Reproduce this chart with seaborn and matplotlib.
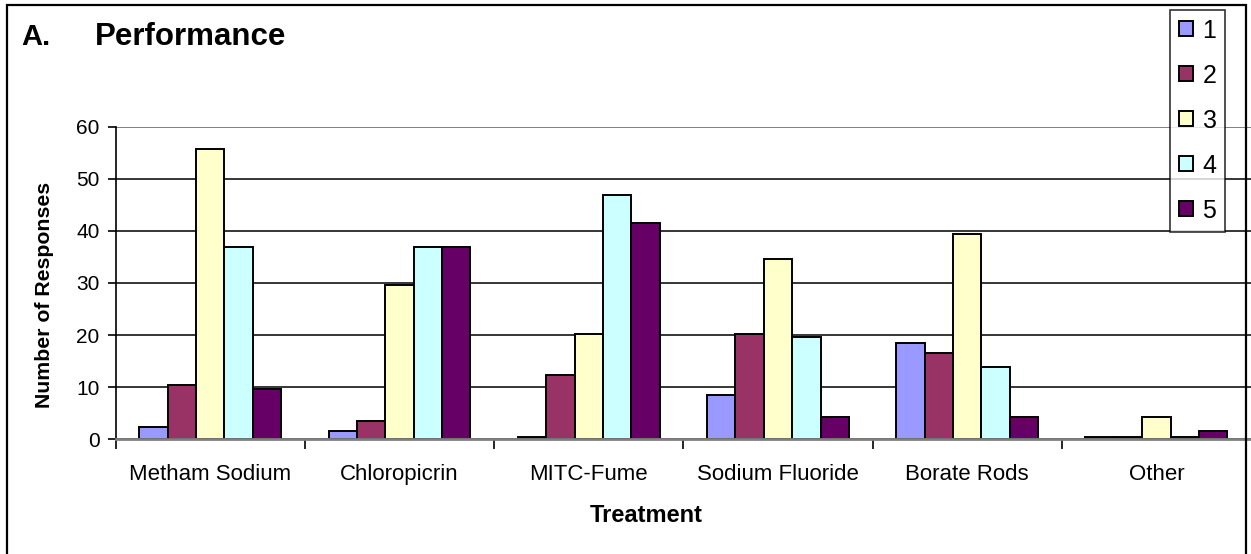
import matplotlib
matplotlib.use("Agg")
import matplotlib.pyplot as plt
import seaborn as sns
import pandas as pd
from matplotlib.patches import Rectangle, Patch
from matplotlib.ticker import FixedLocator

# ---- data ----
treatments = ["Metham Sodium", "Chloropicrin", "MITC-Fume",
              "Sodium Fluoride", "Borate Rods", "Other"]
ratings = ["1", "2", "3", "4", "5"]
r1 = [2.3, 1.6, 0.5, 8.5, 18.5, 0.4]
r2 = [10.5, 3.5, 12.3, 20.3, 16.6, 0.4]
r3 = [55.7, 29.7, 20.3, 34.6, 39.4, 4.2]
r4 = [37.0, 37.0, 46.9, 19.6, 13.9, 0.4]
r5 = [9.6, 37.0, 41.5, 4.2, 4.2, 1.6]
yticks = [0, 10, 20, 30, 40, 50, 60]
colors = ["#9999FF", "#993366", "#FFFFCC", "#CCFFFF", "#660066"]

series = [r1, r2, r3, r4, r5]
rows = []
for rating, vals in zip(ratings, series):
    for t, v in zip(treatments, vals):
        rows.append({"Treatment": t, "Rating": rating, "Responses": v})
df = pd.DataFrame(rows)

sns.set_theme(style="white")
plt.rcParams["font.family"] = ["Liberation Sans", "DejaVu Sans"]
plt.rcParams["text.color"] = "black"
plt.rcParams["axes.labelcolor"] = "black"
plt.rcParams["xtick.color"] = "black"
plt.rcParams["ytick.color"] = "black"

W, H = 1251, 554
fig = plt.figure(figsize=(W / 100, H / 100), dpi=100)
ax_left, ax_bottom_px, ax_top_px, ax_right = 115.7, 439.3, 126.7, 1251
ax = fig.add_axes([ax_left / W, (H - ax_bottom_px) / H,
                   (ax_right - ax_left) / W, (ax_bottom_px - ax_top_px) / H])

sns.barplot(data=df, x="Treatment", y="Responses", hue="Rating",
            order=treatments, hue_order=ratings, palette=colors,
            width=0.75, gap=0, edgecolor="black", linewidth=1.4,
            saturation=1, errorbar=None, ax=ax, zorder=3)

ax.set_ylim(0, 60)
ax.set_xlim(-0.5, 5.5)
ax.set_yticks(yticks)
ax.set_yticklabels([str(v) for v in yticks], fontsize=15)
ax.set_xticks(range(len(treatments)))
ax.set_xticklabels(treatments, fontsize=16)
ax.xaxis.set_minor_locator(FixedLocator([-0.5, 0.5, 1.5, 2.5, 3.5, 4.5]))
ax.tick_params(axis="x", which="major", length=0, pad=18, colors="black")
ax.tick_params(axis="x", which="minor", length=7, width=1.2, color="black",
               direction="out", bottom=True)
ax.tick_params(axis="y", which="major", length=5.5, width=1.2, color="black",
               direction="out", left=True, pad=6, labelcolor="black")

ax.set_axisbelow(True)
ax.yaxis.grid(True, color="black", linewidth=1.1)
ax.xaxis.grid(False)
gl = ax.get_ygridlines()
gl[-1].set_color("#808080")
gl[-1].set_linewidth(1.4)

for s in ["top", "right"]:
    ax.spines[s].set_visible(False)
ax.spines["left"].set_color("black")
ax.spines["left"].set_linewidth(1.2)
ax.spines["bottom"].set_color("#808080")
ax.spines["bottom"].set_linewidth(2)
ax.spines["bottom"].set_zorder(4)

ax.set_xlabel("Treatment", fontsize=17, fontweight="bold", color="black")
ax.xaxis.set_label_coords((646 - ax_left) / (ax_right - ax_left),
                          (ax_bottom_px - 504) / (ax_bottom_px - ax_top_px))
ax.set_ylabel("Number of Responses", fontsize=15.3, fontweight="bold",
              color="black")
ax.yaxis.set_label_coords((53.5 - ax_left) / (ax_right - ax_left),
                          (ax_bottom_px - 295) / (ax_bottom_px - ax_top_px))

# legend
if ax.get_legend() is not None:
    ax.get_legend().remove()
handles = [Patch(facecolor=c, edgecolor="black", linewidth=1.4) for c in colors]
leg = fig.legend(handles, ratings, loc="upper left",
                 bbox_to_anchor=(1170 / W, 1 - 10 / H),
                 fontsize=18, frameon=True, fancybox=False,
                 handlelength=0.55, handleheight=0.55, handletextpad=0.4,
                 labelspacing=0.84, borderpad=0.35, borderaxespad=0)
leg.get_frame().set_edgecolor("black")
leg.get_frame().set_linewidth(1.2)
for t in leg.get_texts():
    t.set_color("black")

# title
fig.text(21 / W, 1 - 45 / H, "A.", fontsize=21, fontweight="bold",
         va="baseline", ha="left", color="black")
fig.text(95 / W, 1 - 45 / H, "Performance", fontsize=22.5, fontweight="bold",
         va="baseline", ha="left", color="black")

# outer chart frame
fig.patches.append(Rectangle((7 / W, -0.05), (1246 - 7) / W, 1 - 5 / H + 0.05,
                             transform=fig.transFigure, fill=False,
                             edgecolor="black", linewidth=1.6, zorder=10))

fig.savefig("out.png", dpi=100)
